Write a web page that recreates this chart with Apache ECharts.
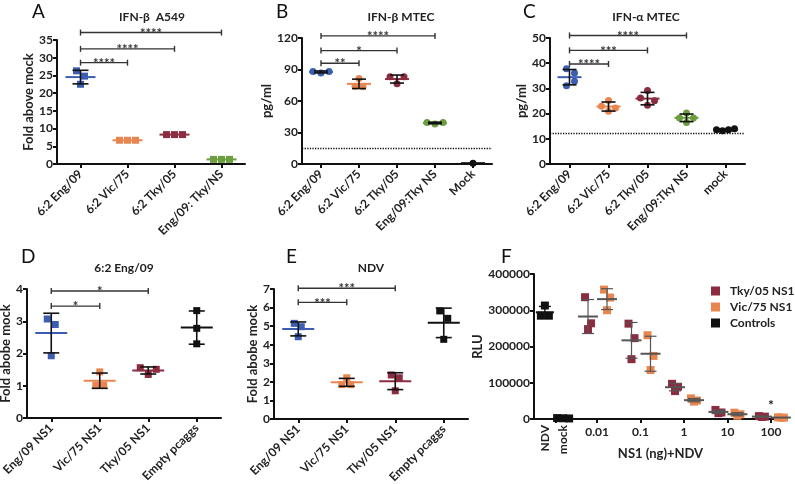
<!DOCTYPE html>
<html>
<head>
<meta charset="utf-8">
<script src="https://cdn.jsdelivr.net/npm/echarts@6/dist/echarts.min.js"></script>
<style>
html, body { margin: 0; padding: 0; background: #fff; }
#chart { width: 795px; height: 484px; }
</style>
</head>
<body>
<div id="chart"></div>
<script>
// ---- data ----
const A_CATS = ['6:2 Eng/09', '6:2 Vic/75', '6:2 Tky/05', 'Eng/09: Tky/NS'];
const A_VALUES = [[26.3, 24.8, 22.5], [6.7, 6.7, 6.7], [8.3, 8.3, 8.3], [1.3, 1.3, 1.3]];
const A_SIG = [[0, 1, 28.6], [0, 2, 32.5], [0, 3, 37.1]];
const A_SIG_LABELS = ['****', '****', '****'];

const B_CATS = ['6:2 Eng/09', '6:2 Vic/75', '6:2 Tky/05', 'Eng/09:Tky NS', 'Mock'];
const B_VALUES = [[88.2, 86.6, 88.2], [81.5, 74, 73.5], [83, 83.2, 76.5], [39.5, 38.2, 39.5], [0.8]];
const B_SIG = [[0, 1, 96], [0, 2, 108], [0, 3, 122]];
const B_SIG_LABELS = ['**', '*', '****'];
const B_LIMIT = 15;

const C_CATS = ['6:2 Eng/09', '6:2 Vic/75', '6:2 Tky/05', 'Eng/09:Tky NS', 'mock'];
const C_VALUES = [[37.8, 36.1, 32.8, 31.1], [25.2, 22.9, 22.2, 20.9], [29.2, 26.2, 25.1, 23.3],
  [20.2, 18.3, 18.3, 16.5], [13.6, 13.2, 13.6, 14.0]];
const C_SIG = [[0, 1, 39.7], [0, 2, 45.1], [0, 3, 51]];
const C_SIG_LABELS = ['****', '***', '****'];
const C_LIMIT = 12.3;

const D_CATS = ['Eng/09 NS1', 'Vic/75 NS1', 'Tky/05 NS1', 'Empty pcaggs'];
const D_VALUES = [[3.07, 2.9, 1.93], [1.43, 1.02, 1.02], [1.56, 1.51, 1.35], [3.33, 2.78, 2.3]];
const D_SIG = [[0, 1, 3.47], [0, 2, 3.94]];
const D_SIG_LABELS = ['*', '*'];

const E_CATS = ['Eng/09 NS1', 'Vic/75 NS1', 'Tky/05 NS1', 'Empty pcaggs'];
const E_VALUES = [[5.15, 4.97, 4.43], [2.22, 1.85, 1.85], [2.37, 2.22, 1.52], [5.82, 5.42, 4.29]];
const E_SIG = [[0, 1, 6.28], [0, 2, 7.04]];
const E_SIG_LABELS = ['***', '***'];

const F_DOSES = [0.01, 0.1, 1, 10, 100];
const F_DOSE_LABELS = ['0.01', '0.1', '1', '10', '100'];
const F_TKY = [[336000, 264000, 248000], [263000, 223000, 165000], [97000, 89000, 77000],
  [25000, 18000, 16000], [8000, 6500, 5500]];
const F_VIC = [[357000, 335000, 300000], [231000, 174000, 135000], [57000, 51000, 48000],
  [17500, 13000, 9000], [4600, 3700, 3700]];
const F_CTRL_LABELS = ['NDV', 'mock'];
const F_CTRL_POS = [-3.2, -2.78];
const F_CTRL = [[313000, 285000, 285000], [2500, 2000, 1500]];

// ---- styling ----
const FONT = 'Lato, "Open Sans", sans-serif';
const BLUE = '#3b5eb2', ORANGE = '#e98650', RED = '#8c2c40', GREEN = '#6c9e3f', BLACK = '#111';
const COLORS5 = [BLUE, ORANGE, RED, GREEN, BLACK];

function stats(v) {
  const n = v.length;
  const m = v.reduce((a, b) => a + b, 0) / n;
  if (n < 2) return [m, 0];
  const s = Math.sqrt(v.reduce((a, b) => a + (b - m) * (b - m), 0) / (n - 1));
  return [m, s];
}

const grids = [], xAxes = [], yAxes = [], series = [];

function axisStyle() {
  return {
    axisLine: { show: true, onZero: false, lineStyle: { color: BLACK, width: 2 } },
    axisTick: { show: true, length: 4, lineStyle: { color: BLACK, width: 2 } },
    splitLine: { show: false }
  };
}

function errorBarRender(meanColors, meanHalf, capHalf, shift, barColor, width) {
  return function (params, api) {
    const x = api.value(0);
    const pm = api.coord([x, api.value(3)]);
    const pl = api.coord([x, api.value(1)]);
    const ph = api.coord([x, api.value(2)]);
    const cx = pm[0] + shift;
    const ls = { stroke: barColor, lineWidth: width };
    const kids = [
      { type: 'line', shape: { x1: cx - meanHalf, y1: pm[1], x2: cx + meanHalf, y2: pm[1] },
        style: { stroke: meanColors[params.dataIndex], lineWidth: 2 } }
    ];
    if (ph[1] < pl[1] - 0.5) {
      kids.push(
        { type: 'line', shape: { x1: cx, y1: pl[1], x2: cx, y2: ph[1] }, style: ls },
        { type: 'line', shape: { x1: cx - capHalf, y1: pl[1], x2: cx + capHalf, y2: pl[1] }, style: ls },
        { type: 'line', shape: { x1: cx - capHalf, y1: ph[1], x2: cx + capHalf, y2: ph[1] }, style: ls }
      );
    }
    return { type: 'group', children: kids };
  };
}

function bracketRender(labels) {
  return function (params, api) {
    const p1 = api.coord([api.value(0), api.value(2)]);
    const p2 = api.coord([api.value(1), api.value(2)]);
    const y = p1[1];
    const st = { stroke: '#333', lineWidth: 1.4 };
    return {
      type: 'group', children: [
        { type: 'line', shape: { x1: p1[0], y1: y, x2: p2[0], y2: y }, style: st },
        { type: 'line', shape: { x1: p1[0], y1: y - 3, x2: p1[0], y2: y + 3 }, style: st },
        { type: 'line', shape: { x1: p2[0], y1: y - 3, x2: p2[0], y2: y + 3 }, style: st },
        { type: 'text', style: { text: labels[params.dataIndex], x: (p1[0] + p2[0]) / 2, y: y + 1,
          align: 'center', verticalAlign: 'middle', font: 'bold 13px ' + FONT, fill: '#333' } }
      ]
    };
  };
}

// one dot-plot panel on a category axis
function dotPanel(p) {
  const gi = grids.length;
  grids.push({ left: p.left, top: p.top, width: p.width, height: p.height, containLabel: false, outerBoundsMode: 'none' });
  xAxes.push(Object.assign(axisStyle(), {
    gridIndex: gi, type: 'category', data: p.cats,
    axisTick: { show: true, alignWithLabel: true, length: 4, lineStyle: { color: BLACK, width: 2 } },
    axisLabel: { rotate: 45, interval: 0, margin: 8, fontSize: 12, fontWeight: 'bold', color: '#222', fontFamily: FONT }
  }));
  yAxes.push(Object.assign(axisStyle(), {
    gridIndex: gi, type: 'value', min: 0, max: p.max, interval: p.interval,
    name: p.yName, nameLocation: 'middle', nameGap: p.nameGap,
    nameTextStyle: { fontSize: 13, fontWeight: 'bold', color: '#222', fontFamily: FONT },
    axisLabel: { fontSize: 12, fontWeight: 'bold', color: '#222', margin: 4, fontFamily: FONT }
  }));
  const pts = [];
  p.values.forEach((vals, i) => {
    vals.forEach((v, j) => {
      pts.push({ value: [i, v], symbolOffset: [p.jitter[i][j], 0], itemStyle: { color: p.colors[i], opacity: 1 } });
    });
  });
  const sc = {
    type: 'scatter', xAxisIndex: gi, yAxisIndex: gi, symbol: p.symbol, symbolSize: p.symbolSize,
    itemStyle: { opacity: 1 }, data: pts, silent: true, z: 2
  };
  if (p.limit != null) {
    sc.markLine = {
      silent: true, symbol: 'none', label: { show: false },
      lineStyle: { type: 'dotted', color: BLACK, width: 1.3 },
      data: [{ yAxis: p.limit }]
    };
  }
  series.push(sc);
  const eb = p.values.map((vals, i) => {
    const [m, s] = stats(vals);
    return [i, m - s, m + s, m];
  });
  series.push({
    type: 'custom', xAxisIndex: gi, yAxisIndex: gi, clip: false, silent: true, z: 3,
    renderItem: errorBarRender(p.colors, p.meanHalf, p.capHalf, 0, BLACK, 1.6),
    encode: { x: 0, y: [1, 2, 3] }, data: eb
  });
  series.push({
    type: 'custom', xAxisIndex: gi, yAxisIndex: gi, clip: false, silent: true, z: 3,
    renderItem: bracketRender(p.sigLabels),
    encode: { x: [0, 1], y: 2 }, data: p.sig
  });
}

dotPanel({ left: 57, top: 40, width: 188, height: 124, cats: A_CATS, values: A_VALUES, max: 35, interval: 5,
  colors: [BLUE, ORANGE, RED, GREEN], jitter: [[-4, 4, 0], [-8, 0, 8], [-8, 0, 8], [-8, 0, 8]],
  symbol: 'rect', symbolSize: 7, meanHalf: 15, capHalf: 8, sig: A_SIG, sigLabels: A_SIG_LABELS,
  yName: 'Fold above mock', nameGap: 17 });

dotPanel({ left: 302, top: 38, width: 190, height: 126, cats: B_CATS, values: B_VALUES, max: 120, interval: 30,
  colors: COLORS5, jitter: [[-8, 0, 8], [0, -4, 4], [-7, 7, 0], [-8, 0, 8], [0]],
  symbol: 'circle', symbolSize: 7, meanHalf: 12, capHalf: 7, sig: B_SIG, sigLabels: B_SIG_LABELS,
  yName: 'pg/ml', nameGap: 20, limit: B_LIMIT });

dotPanel({ left: 550, top: 38, width: 195, height: 126, cats: C_CATS, values: C_VALUES, max: 50, interval: 10,
  colors: COLORS5, jitter: [[-3, 5, 5, -3], [0, -7, 7, 0], [0, -7, 7, 0], [0, -7, 7, 0], [-9, -3, 3, 9]],
  symbol: 'circle', symbolSize: 7, meanHalf: 12, capHalf: 7, sig: C_SIG, sigLabels: C_SIG_LABELS,
  yName: 'pg/ml', nameGap: 20, limit: C_LIMIT });

dotPanel({ left: 27, top: 289, width: 194, height: 129, cats: D_CATS, values: D_VALUES, max: 4, interval: 1,
  colors: [BLUE, ORANGE, RED, BLACK], jitter: [[-4, 4, 0], [0, -4, 4], [-8, 8, 0], [0, 0, 0]],
  symbol: 'rect', symbolSize: 7, meanHalf: 16, capHalf: 8, sig: D_SIG, sigLabels: D_SIG_LABELS,
  yName: 'Fold abobe mock', nameGap: 15 });

dotPanel({ left: 274, top: 289, width: 194, height: 130, cats: E_CATS, values: E_VALUES, max: 7, interval: 1,
  colors: [BLUE, ORANGE, RED, BLACK], jitter: [[-4, 3, 0], [0, -5, 4], [-4, 4, 0], [-4, 4, 0]],
  symbol: 'rect', symbolSize: 7, meanHalf: 16, capHalf: 8, sig: E_SIG, sigLabels: E_SIG_LABELS,
  yName: 'Fold abobe mock', nameGap: 15 });

// ---- panel F: dose response on a log10 position axis ----
(function () {
  const gi = grids.length;
  grids.push({ left: 534, top: 274, width: 253, height: 145, containLabel: false, outerBoundsMode: 'none' });
  const lbl = { fontSize: 12, fontWeight: 'bold', color: '#222', fontFamily: FONT };
  xAxes.push(Object.assign(axisStyle(), {
    gridIndex: gi, type: 'value', min: -3.45, max: 2.37,
    name: 'NS1 (ng)+NDV', nameLocation: 'middle', nameGap: 28,
    nameTextStyle: { fontSize: 13, fontWeight: 'bold', color: '#222', fontFamily: FONT },
    axisTick: { show: true, length: 4, lineStyle: { color: BLACK, width: 2 }, customValues: [-2.95, -2, -1, 0, 1, 2] },
    axisLabel: Object.assign({}, lbl, { margin: 7, customValues: [-2, -1, 0, 1, 2],
      formatter: v => F_DOSE_LABELS[Math.round(v) + 2] })
  }));
  xAxes.push({
    gridIndex: gi, type: 'value', min: -3.45, max: 2.37, position: 'bottom', offset: 0,
    axisLine: { show: false, onZero: false }, axisTick: { show: false }, splitLine: { show: false },
    axisLabel: Object.assign({}, lbl, { rotate: 90, margin: 6, customValues: F_CTRL_POS,
      formatter: v => F_CTRL_LABELS[v < -3 ? 0 : 1] })
  });
  yAxes.push(Object.assign(axisStyle(), {
    gridIndex: gi, type: 'value', min: 0, max: 400000, interval: 100000, position: 'left',
    name: 'RLU', nameLocation: 'middle', nameGap: 46,
    nameTextStyle: { fontSize: 13, fontWeight: 'bold', color: '#222', fontFamily: FONT },
    axisLabel: Object.assign({}, lbl, { margin: 4, formatter: v => String(v) })
  }));

  const groups = [
    { name: 'Tky/05 NS1', color: RED, vals: F_TKY, shift: -9 },
    { name: 'Vic/75 NS1', color: ORANGE, vals: F_VIC, shift: 10 }
  ];
  const jit = [-3, 3, 0];
  groups.forEach(g => {
    const pts = [], eb = [];
    g.vals.forEach((vals, i) => {
      const x = Math.log10(F_DOSES[i]);
      vals.forEach((v, j) => pts.push({ value: [x, v], symbolOffset: [g.shift + jit[j], 0] }));
      const [m, s] = stats(vals);
      eb.push([x, m - s, m + s, m]);
    });
    const sc = {
      type: 'scatter', name: g.name, xAxisIndex: gi, yAxisIndex: gi, symbol: 'rect', symbolSize: 8,
      itemStyle: { color: g.color, opacity: 1 }, data: pts, silent: true, z: 2
    };
    if (g.name === 'Tky/05 NS1') {
      sc.markPoint = {
        silent: true, symbol: 'circle', symbolSize: 0,
        label: { show: true, formatter: '*', fontSize: 14, fontWeight: 'bold', color: '#222', position: 'inside' },
        data: [{ coord: [2, 38000] }]
      };
    }
    series.push(sc);
    series.push({
      type: 'custom', xAxisIndex: gi, yAxisIndex: gi, clip: false, silent: true, z: 3,
      renderItem: errorBarRender(g.vals.map(() => '#555'), 10, 6, g.shift, '#555', 1.2),
      encode: { x: 0, y: [1, 2, 3] }, data: eb
    });
  });

  const cjit = [[0, -4, 4], [-6, 0, 6]];
  const cpts = [], ceb = [];
  F_CTRL.forEach((vals, i) => {
    vals.forEach((v, j) => cpts.push({ value: [F_CTRL_POS[i], v], symbolOffset: [cjit[i][j], 0] }));
    const [m, s] = stats(vals);
    ceb.push([F_CTRL_POS[i], m - s, m + s, m]);
  });
  series.push({
    type: 'scatter', name: 'Controls', xAxisIndex: gi, yAxisIndex: gi, symbol: 'rect', symbolSize: 8,
    itemStyle: { color: BLACK, opacity: 1 }, data: cpts, silent: true, z: 2
  });
  series.push({
    type: 'custom', xAxisIndex: gi, yAxisIndex: gi, clip: false, silent: true, z: 3,
    renderItem: errorBarRender([BLACK, BLACK], 9, 6, 0, BLACK, 1.4),
    encode: { x: 0, y: [1, 2, 3] }, data: ceb
  });
})();

// titles and panel letters
const letters = [['A', 32, 2], ['B', 276, 2], ['C', 523, 2], ['D', 21, 247], ['E', 286, 247], ['F', 501, 247]];
const titles = [['IFN-β  A549', 152, 17], ['IFN-β MTEC', 401, 17], ['IFN-α MTEC', 646, 17],
  ['6:2 Eng/09', 124, 268], ['NDV', 371, 268]];
const graphic = [];
letters.forEach(([t, x, y]) => graphic.push({ type: 'text', left: x, top: y,
  style: { text: t, font: '19px ' + FONT, fill: '#111' } }));
titles.forEach(([t, x, y]) => graphic.push({ type: 'text', x: x, y: y,
  style: { text: t, font: 'bold 12px ' + FONT, fill: '#222', align: 'center', verticalAlign: 'middle' } }));

const chart = echarts.init(document.getElementById('chart'));
chart.setOption({
  animation: false,
  textStyle: { fontFamily: FONT },
  grid: grids,
  xAxis: xAxes,
  yAxis: yAxes,
  legend: {
    data: ['Tky/05 NS1', 'Vic/75 NS1', 'Controls'],
    orient: 'vertical', left: 706, top: 280, icon: 'rect', itemWidth: 9, itemHeight: 9, itemGap: 4,
    selectedMode: false,
    textStyle: { fontSize: 12, fontWeight: 'bold', color: '#222', padding: [0, 0, 0, 5] }
  },
  graphic: graphic,
  series: series
});
</script>
</body>
</html>
